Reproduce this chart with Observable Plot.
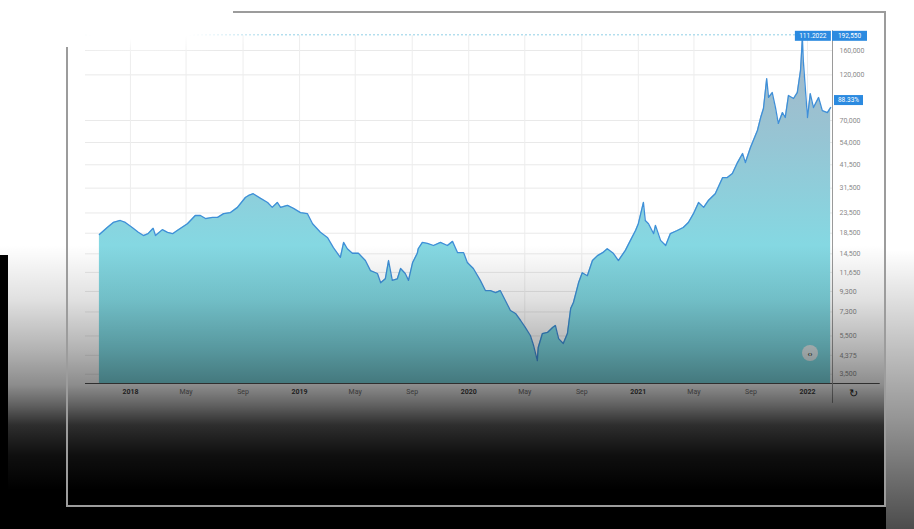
<!DOCTYPE html>
<html><head><meta charset="utf-8">
<script src="https://cdn.jsdelivr.net/npm/d3@7"></script>
<script src="https://cdn.jsdelivr.net/npm/@observablehq/plot@0.6"></script>
<style>
html,body{margin:0;padding:0;background:#fff;}
#page{position:relative;width:914px;height:529px;overflow:hidden;background:#fff;font-family:Roboto,"Noto Sans",sans-serif;}
#chart{position:absolute;left:0;top:0;z-index:1;}
.ov{position:absolute;pointer-events:none;z-index:2;}
.fr{position:absolute;background:#9c9c9c;z-index:3;}
</style></head><body>
<div id="page">
  <div id="chart"></div>
  <div class="ov" style="left:0;top:0;width:886px;height:529px;background:linear-gradient(to bottom,rgba(0,0,0,0) 0px,rgba(0,0,0,0) 245px,rgba(0,0,0,0.12) 300px,rgba(0,0,0,0.3) 350px,rgba(0,0,0,0.45) 385px,rgba(0,0,0,0.62) 405px,rgba(0,0,0,0.82) 425px,rgba(0,0,0,0.94) 455px,rgba(0,0,0,1) 490px);"></div>
  <div class="ov" style="left:886px;top:0;width:28px;height:529px;background:linear-gradient(to bottom,rgba(0,0,0,0) 0px,rgba(0,0,0,0) 250px,rgba(0,0,0,0.25) 350px,rgba(0,0,0,0.42) 420px,rgba(0,0,0,0.7) 529px);"></div>
  <div class="ov" style="left:0;top:255px;width:8px;height:274px;background:#000;"></div>
  <div class="ov" style="left:0;top:0;width:320px;height:60px;background:radial-gradient(ellipse 150px 38px at 140px 18px,rgba(255,255,255,1) 55%,rgba(255,255,255,0) 100%);"></div>
  <div class="fr" style="left:233px;top:11px;width:653px;height:2px;"></div>
  <div class="fr" style="left:66px;top:47px;width:2px;height:460px;"></div>
  <div class="fr" style="left:884px;top:11px;width:2px;height:496px;"></div>
  <div class="fr" style="left:66px;top:505px;width:820px;height:2px;"></div>
</div>
<script>
// ---- data ----
const dates = [
  "2017-10-26","2017-11-12","2017-11-25","2017-12-10","2017-12-21",
  "2018-01-07","2018-01-18","2018-01-29","2018-02-08","2018-02-19","2018-02-24","2018-03-11","2018-03-22","2018-04-02","2018-04-12","2018-05-04","2018-05-21","2018-06-01","2018-06-12","2018-06-27","2018-07-08","2018-07-21","2018-08-05","2018-08-20","2018-09-06","2018-09-13","2018-09-23","2018-10-09","2018-10-24","2018-11-03","2018-11-14","2018-11-21","2018-12-06","2018-12-19",
  "2019-01-03","2019-01-18","2019-01-29","2019-02-15","2019-03-02","2019-03-15","2019-03-30","2019-04-06","2019-04-14","2019-04-25","2019-05-08","2019-05-23","2019-06-03","2019-06-18","2019-06-25","2019-07-05","2019-07-12","2019-07-20","2019-07-31","2019-08-07","2019-08-17","2019-08-24","2019-09-02","2019-09-12","2019-09-14","2019-09-23","2019-10-04","2019-10-17","2019-11-01","2019-11-16","2019-11-27","2019-12-08","2019-12-21","2019-12-29",
  "2020-01-11","2020-01-26","2020-02-06","2020-02-17","2020-02-28","2020-03-09","2020-03-20","2020-03-31","2020-04-11","2020-04-22","2020-05-02","2020-05-13","2020-05-20","2020-05-28","2020-05-30","2020-06-08","2020-06-19","2020-06-30","2020-07-06","2020-07-13","2020-07-23","2020-08-01","2020-08-08","2020-08-14","2020-08-25","2020-09-02","2020-09-13","2020-09-24","2020-10-05","2020-10-16","2020-10-26","2020-11-08","2020-11-19","2020-12-04","2020-12-15","2020-12-26",
  "2021-01-01","2021-01-12","2021-01-16","2021-01-23","2021-02-03","2021-02-07","2021-02-18","2021-03-01","2021-03-11","2021-03-26","2021-04-08","2021-04-19","2021-04-30","2021-05-11","2021-05-22","2021-06-01","2021-06-16","2021-07-02","2021-07-12","2021-07-23","2021-08-03","2021-08-14","2021-08-20","2021-08-31","2021-09-15","2021-09-22","2021-09-28","2021-10-05","2021-10-09","2021-10-17","2021-10-24","2021-10-30","2021-11-08","2021-11-14","2021-11-21","2021-12-02","2021-12-10","2021-12-17","2021-12-21","2021-12-23",
  "2022-01-01","2022-01-07","2022-01-14","2022-01-25","2022-02-02","2022-02-13","2022-02-20"
];
const values = [
  18200,19800,21000,21500,21000,
  19600,18700,18000,18400,19600,18000,19300,18700,18400,19100,20700,22800,22800,22000,22300,22300,23300,23600,25100,28200,28900,29500,27900,26600,25100,26600,25100,25700,24800,
  23600,23300,20700,18700,17600,15600,13900,16600,15400,14600,14600,13400,11900,11500,10300,10800,13400,10600,10800,12200,11500,10600,13100,14600,15400,16600,16400,16000,16600,16000,16800,14700,14700,13100,
  12200,10600,9400,9400,9180,9400,8360,7430,7170,6600,6080,5530,4910,4110,4800,5660,5730,6080,6220,5330,5030,5660,7600,8160,10300,11600,11200,13400,14200,14700,15400,14600,13400,15100,17000,19100,
  20700,26600,21500,20700,18400,20300,17000,16000,18400,19100,19800,21000,23300,26600,25100,27200,29500,35700,35700,37400,42600,47400,42600,50900,62200,72500,80700,114900,91900,97400,81600,67600,76900,72500,94100,90800,97400,126400,186600,142200,
  72500,96200,81600,91900,78700,76900,81600
];
const yTicks = [160000,120000,70000,54000,41500,31500,23500,18500,14500,11650,9300,7300,5500,4375,3500];
const xTickDates = ["2018-01-01","2018-05-01","2018-09-01","2019-01-01","2019-05-01","2019-09-01","2020-01-01","2020-05-01","2020-09-01","2021-01-01","2021-05-01","2021-09-01","2022-01-01"];
const xTickLabels = ["2018","May","Sep","2019","May","Sep","2020","May","Sep","2021","May","Sep","2022"];
const topValue = 192550, topLabel = "192,550";
const peakDate = "2021-12-21", peakLabel = "111.2022";
const lastValue = 88600, lastLabel = "88.33%";
const xDomain = ["2017-09-26","2022-02-24"];
const yDomain = [3137, 191000];

// ---- build ----
const data = dates.map((d,i)=>({date:new Date(d), value:values[i]}));
const xTicks = xTickDates.map((d,i)=>({date:new Date(d), label:xTickLabels[i], year:/^\d{4}$/.test(xTickLabels[i])}));
const x0 = new Date(xDomain[0]), x1 = new Date(xDomain[1]);
const ns = "http://www.w3.org/2000/svg";
const el = (tag, attrs) => { const e = document.createElementNS(ns, tag); for (const k in attrs) e.setAttribute(k, attrs[k]); return e; };

const defsMark = () => {
  const defs = el("defs", {});
  defs.innerHTML = '<linearGradient id="areaGrad" x1="0" y1="0" x2="0" y2="1">' +
    '<stop offset="0" stop-color="#a7b6c7"/>' +
    '<stop offset="0.3" stop-color="#96c5d4"/>' +
    '<stop offset="0.6" stop-color="#85d8e2"/>' +
    '<stop offset="1" stop-color="#7ad8e1"/></linearGradient>';
  return defs;
};

const decoMark = (index, scales, values, dims) => {
  const g = el("g", {"font-family":"Roboto, sans-serif"});
  const right = dims.width - dims.marginRight;
  const bottom = dims.height - dims.marginBottom;
  const box = (x, y, w, txt) => {
    g.appendChild(el("rect", {x, y: y-5, width: w, height: 10, fill: "#2b8ae0"}));
    const t = el("text", {x: x + w/2, y: y + 2.3, fill: "#fff", "font-size": 6.5, "text-anchor": "middle"});
    t.textContent = txt; g.appendChild(t);
  };
  const yTop = scales.y(topValue) + 1.5;
  box(scales.x(new Date(peakDate)) - 7, yTop, 36, peakLabel);
  box(right, yTop, 35, topLabel);
  box(right + 2, scales.y(lastValue), 29, lastLabel);
  g.appendChild(el("circle", {cx: right - 22, cy: bottom - 30, r: 8, fill: "#f0f0f0", "fill-opacity": 0.85}));
  const ic = el("text", {x: right - 22, y: bottom - 27.5, fill: "#444", "font-size": 8, "font-weight": 700, "text-anchor": "middle"});
  ic.textContent = "‹›"; g.appendChild(ic);
  const rf = el("text", {x: right + 21, y: bottom + 14, fill: "#222", "font-size": 11, "text-anchor": "middle"});
  rf.textContent = "↻"; g.appendChild(rf);
  return g;
};

const chart = Plot.plot({
  width: 914, height: 420,
  marginLeft: 85, marginRight: 82, marginTop: 35, marginBottom: 37,
  style: {background: "transparent", fontFamily: "Roboto, sans-serif", fontSize: "7px", color: "#777"},
  x: {type: "utc", domain: [x0, x1], axis: null},
  y: {type: "log", domain: yDomain, axis: null},
  marks: [
    defsMark,
    Plot.ruleY(yTicks, {stroke: "#e9e9e9"}),
    Plot.ruleX(xTicks, {x: "date", stroke: "#ededed"}),
    Plot.ruleY([topValue], {stroke: "#8fcfe6", strokeDasharray: "2,2"}),
    Plot.areaY(data, {x: "date", y1: () => yDomain[0], y2: "value", fill: "url(#areaGrad)"}),
    Plot.lineY(data, {x: "date", y: "value", stroke: "#3f8fd8", strokeWidth: 1.3}),
    Plot.ruleY([yDomain[0]], {x1: () => x0, x2: () => new Date("2022-06-07"), stroke: "#555", strokeWidth: 1.2}),
    Plot.ruleX([x1], {y1: () => 202000, y2: () => 2480, stroke: "#9a9a9a"}),
    Plot.text(xTicks.filter(d => d.year), {x: "date", text: "label", frameAnchor: "bottom", dy: 10, fill: "#444", fontWeight: 700}),
    Plot.text(xTicks.filter(d => !d.year), {x: "date", text: "label", frameAnchor: "bottom", dy: 10, fill: "#777"}),
    Plot.text(yTicks, {y: d => d, text: d => d3.format(",")(d), frameAnchor: "right", dx: 7, textAnchor: "start", fill: "#8a8a8a"}),
    decoMark
  ]
});
document.getElementById("chart").appendChild(chart);
</script>
</body></html>
